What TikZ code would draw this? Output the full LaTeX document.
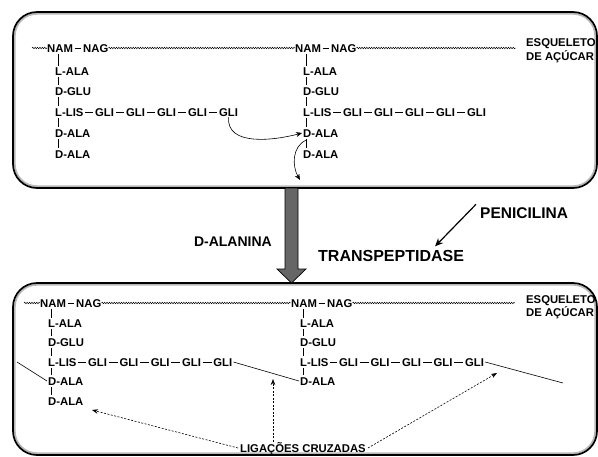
\documentclass[tikz,border=0pt]{standalone}
\usepackage{fontspec}
\setmainfont{Liberation Sans}
\usetikzlibrary{decorations.pathmorphing,arrows.meta,calc}
\begin{document}
\begin{tikzpicture}[x=1pt,y=-1pt,
  lbl/.style={anchor=west,inner sep=0pt,text height=8pt,text depth=0pt,
              font=\fontsize{11.3}{13}\selectfont\bfseries},
  big/.style={inner sep=0pt,text height=11pt,text depth=0pt,
              font=\fontsize{#1}{#1}\selectfont\bfseries},
  bond/.style={line width=0.6pt,shorten <=1.6pt,shorten >=1.6pt},
  vb/.style={line width=0.6pt,shorten <=2pt,shorten >=2pt},
  sugar/.style={line width=0.45pt,decorate,
                decoration={snake,segment length=2.4pt,amplitude=0.8pt}},
  panel/.style={line width=1.7pt,rounded corners=24pt},
  panelshade/.style={line width=1.8pt,black!28,rounded corners=22pt},
  curvy/.style={line width=0.6pt,-{Stealth[length=6pt,width=5pt]}},
  xlink/.style={line width=0.6pt},
  dasharrow/.style={line width=0.6pt,dash pattern=on 2pt off 1.5pt,
                    -{Stealth[length=6pt,width=4.5pt]}},
  penarrow/.style={line width=1.2pt,-{Stealth[length=8pt,width=7pt]}}]

\useasboundingbox (0,0) rectangle (598,456);

% ---------- panels ----------
\draw[panelshade] (14.8,13.8) rectangle (595.2,186.2);
\draw[panel] (13,12) rectangle (597,188);
\draw[panelshade] (14.8,284.8) rectangle (595.2,453.2);
\draw[panel] (13,283) rectangle (597,455);

% ---------- upper panel: two peptidoglycan units ----------
% unit 1
\node[lbl] (nam1) at (47,48) {NAM};
\node[lbl] (nag1) at (83,48) {NAG};
\node[lbl] (ala1) at (55,71) {L-ALA};
\node[lbl] (glu1) at (55,91) {D-GLU};
\node[lbl] (lis1) at (55,112) {L-LIS};
\node[lbl] (dala1) at (55,133) {D-ALA};
\node[lbl] (dalb1) at (55,154) {D-ALA};
\foreach \i in {1,...,5} \node[lbl] (ga\i) at ({64+31*\i},112) {GLI};
% unit 2
\node[lbl] (nam2) at (295,48) {NAM};
\node[lbl] (nag2) at (331,48) {NAG};
\node[lbl] (ala2) at (303,71) {L-ALA};
\node[lbl] (glu2) at (303,91) {D-GLU};
\node[lbl] (lis2) at (303,112) {L-LIS};
\node[lbl] (dala2) at (303,133) {D-ALA};
\node[lbl] (dalb2) at (303,154) {D-ALA};
\foreach \i in {1,...,5} \node[lbl] (gb\i) at ({312+31*\i},112) {GLI};

\node[lbl] (esq1) at (526,42) {ESQUELETO};
\node[lbl] (acu1) at (526,56) {DE AÇÚCAR};

\coordinate (wa) at (32,48);
\coordinate (wb) at (516,48);
\draw[sugar] (wa) -- (nam1.west);
\draw[sugar] (nag1.east) -- (nam2.west);
\draw[sugar] (nag2.east) -- (wb);

\draw[bond] (nam1) -- (nag1);
\draw[bond] (nam2) -- (nag2);
\draw[bond] (lis1) -- (ga1);
\draw[bond] (lis2) -- (gb1);
\foreach \i/\j in {1/2,2/3,3/4,4/5}{
  \draw[bond] (ga\i) -- (ga\j);
  \draw[bond] (gb\i) -- (gb\j);
}
\foreach \u in {1,2}{
  \draw[vb,shorten >=0.5pt] ([xshift=11pt]nam\u.south west) -- ([xshift=3pt]ala\u.north west);
  \draw[vb] ([xshift=3pt]ala\u.south west) -- ([xshift=3pt]glu\u.north west);
  \draw[vb] ([xshift=3pt]glu\u.south west) -- ([xshift=3pt]lis\u.north west);
  \draw[vb] ([xshift=3pt]lis\u.south west) -- ([xshift=3pt]dala\u.north west);
  \draw[vb] ([xshift=3pt]dala\u.south west) -- ([xshift=3pt]dalb\u.north west);
}

% transpeptidation: terminal GLI attacks D-ALA, the last D-ALA leaves
\coordinate (leave) at (300,180);
\draw[curvy] ([yshift=-1pt]ga5.south) to[out=-95,in=195] ([xshift=-1pt]dala2.west);
\draw[curvy] ([xshift=3pt,yshift=-3pt]dala2.south west) to[out=205,in=120] (leave);

% ---------- reaction arrow and labels ----------
\coordinate (ga) at (291.5,188);
\draw[line width=0.7pt,fill=black!60] (ga) ++(-6.5,0) -- ++(13,0) -- ++(0,81)
  -- ++(8,0) -- ++(-14.5,14) -- ++(-14.5,-14) -- ++(8,0) -- cycle;

\node[big=14,anchor=east] (dalan) at (272,241) {D-ALANINA};
\node[big=16,anchor=west] (transp) at (318,256) {TRANSPEPTIDASE};
\node[big=15.5,anchor=west] (pen) at (480,213) {PENICILINA};
\draw[penarrow] ([xshift=-4pt,yshift=3pt]pen.north west) -- ([xshift=44pt,yshift=4pt]transp.north);

% ---------- lower panel: cross-linked units ----------
\node[lbl] (nam3) at (40,303) {NAM};
\node[lbl] (nag3) at (76,303) {NAG};
\node[lbl] (ala3) at (48,323) {L-ALA};
\node[lbl] (glu3) at (48,342) {D-GLU};
\node[lbl] (lis3) at (48,362) {L-LIS};
\node[lbl] (dala3) at (48,381) {D-ALA};
\node[lbl] (dalb3) at (48,401) {D-ALA};
\foreach \i in {1,...,5} \node[lbl] (gc\i) at ({56.7+31.3*\i},362) {GLI};

\node[lbl] (nam4) at (291,303) {NAM};
\node[lbl] (nag4) at (327,303) {NAG};
\node[lbl] (ala4) at (300,323) {L-ALA};
\node[lbl] (glu4) at (300,342) {D-GLU};
\node[lbl] (lis4) at (300,362) {L-LIS};
\node[lbl] (dala4) at (300,381) {D-ALA};
\foreach \i in {1,...,5} \node[lbl] (gd\i) at ({307.5+31.5*\i},362) {GLI};

\node[lbl] (esq2) at (526,299) {ESQUELETO};
\node[lbl] (acu2) at (526,312) {DE AÇÚCAR};

\coordinate (wc) at (24,303);
\coordinate (wd) at (515,303);
\draw[sugar] (wc) -- (nam3.west);
\draw[sugar] (nag3.east) -- (nam4.west);
\draw[sugar] (nag4.east) -- (wd);

\draw[bond] (nam3) -- (nag3);
\draw[bond] (nam4) -- (nag4);
\draw[bond] (lis3) -- (gc1);
\draw[bond] (lis4) -- (gd1);
\foreach \i/\j in {1/2,2/3,3/4,4/5}{
  \draw[bond] (gc\i) -- (gc\j);
  \draw[bond] (gd\i) -- (gd\j);
}
\draw[vb,shorten >=0.5pt] ([xshift=11pt]nam3.south west) -- ([xshift=3pt]ala3.north west);
\draw[vb,shorten >=0.5pt] ([xshift=12pt]nam4.south west) -- ([xshift=3pt]ala4.north west);
\foreach \u in {3,4}{
  \draw[vb] ([xshift=3pt]ala\u.south west) -- ([xshift=3pt]glu\u.north west);
  \draw[vb] ([xshift=3pt]glu\u.south west) -- ([xshift=3pt]lis\u.north west);
  \draw[vb] ([xshift=3pt]lis\u.south west) -- ([xshift=3pt]dala\u.north west);
}
\draw[vb] ([xshift=3pt]dala3.south west) -- ([xshift=3pt]dalb3.north west);

% peptide cross-links
\coordinate (xl) at (17,362);
\coordinate (xr) at (563,383);
\draw[xlink] (xl) -- ([xshift=-1pt]dala3.west);
\draw[xlink] ([xshift=1pt]gc5.east) -- ([xshift=-1pt]dala4.west);
\draw[xlink] ([xshift=1pt]gd5.east) -- (xr);

\node[lbl] (lig) at (240,448) {LIGAÇÕES CRUZADAS};
\coordinate (t1) at (92,410);
\coordinate (t2) at (273,379);
\coordinate (t3) at (497,373);
\draw[dasharrow] ([xshift=-2pt]lig.west) -- (t1);
\draw[dasharrow] ([xshift=33pt,yshift=2pt]lig.north west) -- (t2);
\draw[dasharrow] ([xshift=2pt]lig.east) -- (t3);

\end{tikzpicture}
\end{document}
